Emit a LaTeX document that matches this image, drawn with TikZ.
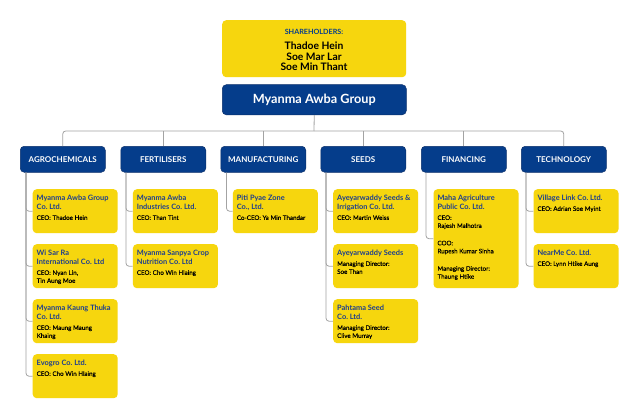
\documentclass[tikz,border=0pt]{standalone}
\usepackage{fontspec}
\setmainfont{Lato}
\newfontface\latomed{Lato}[FakeBold=0.25]
\frenchspacing
\definecolor{ayellow}{HTML}{F6D60E}
\definecolor{ablue}{HTML}{053D8B}
\definecolor{aedge}{HTML}{0A2F6B}
\definecolor{tblue}{HTML}{1D3E8E}
\definecolor{lgray}{HTML}{A3A3A3}
\newcommand\ctit[1]{{\fontsize{7.4}{9}\selectfont\bfseries\color{tblue}\spaceskip=0.26em\xspaceskip=0.26em #1\par}\vspace{2pt}}
\newcommand\cbod[1]{{\latomed\fontsize{6.2}{8}\selectfont\color{black}\spaceskip=0.27em\xspaceskip=0.27em #1\par}}
\newcommand\cgap{\vspace{9.4pt}}
\tikzset{
  shbox/.style={fill=ayellow, rounded corners=4pt, inner sep=0pt, minimum width=184pt, minimum height=57pt, anchor=north west},
  mainbox/.style={fill=ablue, draw=aedge, line width=0.5pt, rounded corners=4pt, inner sep=0pt, minimum width=184pt, minimum height=30pt, anchor=north west, text=white, font=\fontsize{12.7}{14}\selectfont\bfseries},
  catbox/.style={fill=ablue, draw=aedge, line width=0.5pt, rounded corners=4pt, inner sep=0pt, minimum width=85pt, minimum height=26pt, anchor=north west, text=white, font=\fontsize{8}{9}\selectfont\bfseries},
  childbox/.style={fill=ayellow, rounded corners=4pt, inner sep=0pt, minimum width=85pt, minimum height=44pt, anchor=north west},
  childtext/.style={anchor=north west, inner sep=0pt, text width=80pt, align=left},
  conn/.style={draw=lgray, line width=0.8pt, rounded corners=3pt},
}
\begin{document}
\begin{tikzpicture}[x=1pt, y=-1pt]
\useasboundingbox[fill=white] (0,0) rectangle (640,420);
% top
\node[shbox] (sh) at (222,20) {};
\node[font=\fontsize{7.2}{8}\selectfont\bfseries, text=ablue] (shlab) at (314,32) {SHAREHOLDERS:};
\node[font=\fontsize{10.3}{10.8}\selectfont\bfseries, align=center, anchor=north, inner sep=0pt] (shnames) at (314,41.5) {Thadoe Hein\\Soe Mar Lar\\Soe Min Thant};
\node[mainbox] (main) at (222,84.5) {Myanma Awba Group};
% categories
\node[catbox] (agro) at (20,146) {AGROCHEMICALS};
\node[catbox] (fert) at (120.5,146) {FERTILISERS};
\node[catbox] (manu) at (220.5,146) {MANUFACTURING};
\node[catbox] (seed) at (320.5,146) {SEEDS};
\node[catbox] (fin) at (421,146) {FINANCING};
\node[catbox] (tech) at (521,146) {TECHNOLOGY};
% trunk
\coordinate (bus) at (314,131);
\draw[conn] (main.south) -- (bus);
\draw[conn] (agro.north) |- (bus) -| (tech.north);
\draw[conn] (fert.north) -- (fert.north |- bus);
\draw[conn] (manu.north) -- (manu.north |- bus);
\draw[conn] (seed.north) -- (seed.north |- bus);
\draw[conn] (fin.north) -- (fin.north |- bus);
% agro children
\node[childbox] (a1) at (32.5,189) {};
\node[childbox] (a2) at (32.5,244) {};
\node[childbox] (a3) at (32.5,299) {};
\node[childbox] (a4) at (32.5,354) {};
\node[childtext] (a1t) at (36.5,195.2) {\ctit{Myanma Awba Group\\Co. Ltd.}\cbod{CEO: Thadoe Hein}};
\node[childtext] (a2t) at (36.5,250.2) {\ctit{Wi Sar Ra\\International Co. Ltd}\cbod{CEO: Nyan Lin,\\Tin Aung Moe}};
\node[childtext] (a3t) at (36.5,305.2) {\ctit{Myanma Kaung Thuka\\Co. Ltd.}\cbod{CEO: Maung Maung\\Khaing}};
\node[childtext] (a4t) at (36.5,360.2) {\ctit{Evogro Co. Ltd.}\cbod{CEO: Cho Win Hlaing}};
% fert children
\node[childbox] (f1) at (132.7,189) {};
\node[childbox] (f2) at (132.7,244) {};
\node[childtext] (f1t) at (136.7,195.2) {\ctit{Myanma Awba\\Industries Co. Ltd.}\cbod{CEO: Than Tint}};
\node[childtext] (f2t) at (136.7,250.2) {\ctit{Myanma Sanpya Crop\\Nutrition Co. Ltd}\cbod{CEO: Cho Win Hlaing}};
% manu
\node[childbox] (m1) at (232.7,189) {};
\node[childtext] (m1t) at (236.7,195.2) {\ctit{Piti Pyae Zone\\Co., Ltd.}\cbod{Co-CEO: Ya Min Thandar}};
% seeds
\node[childbox] (s1) at (333,189) {};
\node[childbox] (s2) at (333,244) {};
\node[childbox] (s3) at (333,299) {};
\node[childtext] (s1t) at (337,195.2) {\ctit{Ayeyarwaddy Seeds \&\\Irrigation Co. Ltd.}\cbod{CEO: Martin Weiss}};
\node[childtext] (s2t) at (337,250.2) {\ctit{Ayeyarwaddy Seeds}\cbod{Managing Director:\\Soe Than}};
\node[childtext] (s3t) at (337,305.2) {\ctit{Pahtama Seed\\Co. Ltd.}\cbod{Managing Director:\\Clive Murray}};
% financing
\node[childbox, minimum height=99pt] (n1) at (433.3,189) {};
\node[childtext] (n1t) at (437.3,195.2) {\ctit{Maha Agriculture\\Public Co. Ltd.}\cbod{CEO:\\Rajesh Malhotra}\cgap\cbod{COO:\\Rupesh Kumar Sinha}\cgap\cbod{Managing Director:\\Thaung Htike}};
% tech
\node[childbox] (t1) at (533.3,189) {};
\node[childbox] (t2) at (533.3,244) {};
\node[childtext] (t1t) at (537.3,195.2) {\ctit{Village Link Co. Ltd.}\cbod{CEO: Adrian Soe Myint}};
\node[childtext] (t2t) at (537.3,250.2) {\ctit{NearMe Co. Ltd.}\cbod{CEO: Lynn Htike Aung}};
% child connectors
\foreach \c/\k/\dx in {agro/a1/6, agro/a2/6, agro/a3/6, agro/a4/6, fert/f1/5.5, fert/f2/5.5, manu/m1/6, seed/s1/5.5, seed/s2/5.5, seed/s3/5.5, fin/n1/5, tech/t1/5, tech/t2/5}{
  \draw[conn] ([xshift=\dx pt]\c.south west) |- (\k.west);
}
\end{tikzpicture}
\end{document}
